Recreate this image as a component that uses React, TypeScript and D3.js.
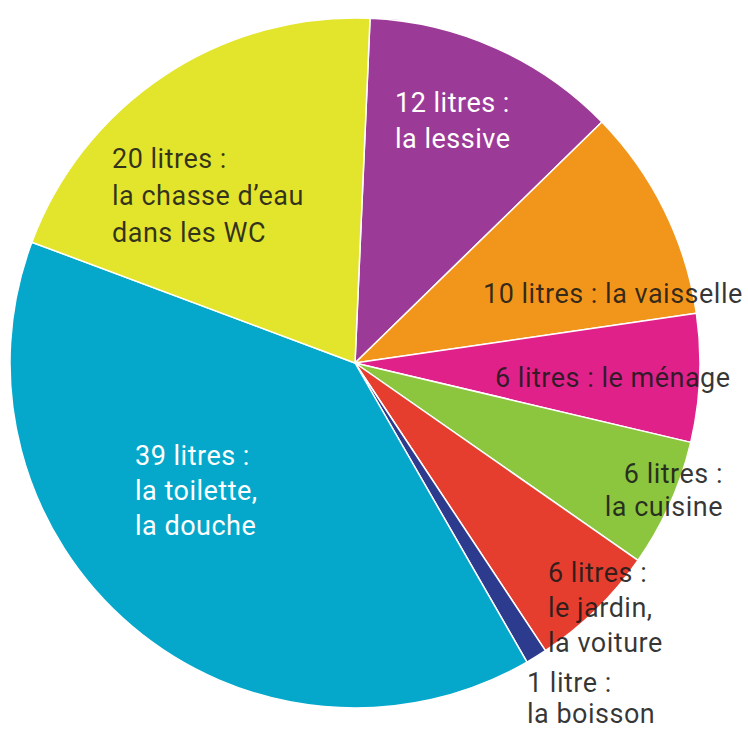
import React from "react";
import * as d3 from "d3";

const categories = [
  "la lessive",
  "la vaisselle",
  "le ménage",
  "la cuisine",
  "le jardin, la voiture",
  "la boisson",
  "la toilette, la douche",
  "la chasse d'eau dans les WC",
];
const values = [12, 10, 6, 6, 6, 1, 39, 20];
const colors = ["#9C3B97", "#F2961B", "#E0218A", "#8CC63E", "#E63E2E", "#2D3B8E", "#05A8CA", "#E3E42C"];
const labelLines = [
  ["12 litres :", "la lessive"],
  ["10 litres : la vaisselle"],
  ["6 litres : le ménage"],
  ["6 litres :", "la cuisine"],
  ["6 litres :", "le jardin,", "la voiture"],
  ["1 litre :", "la boisson"],
  ["39 litres  :", "la toilette,", "la douche"],
  ["20 litres :", "la chasse d\u2019eau", "dans les WC"],
];

// label layout (x, first baseline, anchor, colour, line gap)
const labelLayout = [
  { x: 395, y: 112, anchor: "start", fill: "#ffffff", gap: 36 },
  { x: 483, y: 303, anchor: "start", fill: "#1a1a1a", gap: 35 },
  { x: 495, y: 387, anchor: "start", fill: "#1a1a1a", gap: 35 },
  { x: 723, y: 483, anchor: "end", fill: "#1a1a1a", gap: 33 },
  { x: 548, y: 582, anchor: "start", fill: "#1a1a1a", gap: 35 },
  { x: 527, y: 692, anchor: "start", fill: "#1a1a1a", gap: 31 },
  { x: 135, y: 465, anchor: "start", fill: "#ffffff", gap: 35 },
  { x: 112, y: 168, anchor: "start", fill: "#1a1a1a", gap: 37 },
];

const W = 748;
const H = 731;
const CX = 355;
const CY = 363;
const R = 345;
const START = (2.5 * Math.PI) / 180;

export default function App() {
  const pie = d3
    .pie<number>()
    .sort(null)
    .value((d) => d)
    .startAngle(START)
    .endAngle(START + 2 * Math.PI);
  const arcs = pie(values);
  const arc = d3.arc<d3.PieArcDatum<number>>().innerRadius(0).outerRadius(R);

  return (
    <svg
      width={W}
      height={H}
      style={{ position: "absolute", left: 0, top: 0, background: "#ffffff" }}
      fontFamily="Roboto, 'DejaVu Sans', sans-serif"
    >
      <rect width={W} height={H} fill="#ffffff" />
      <g transform={`translate(${CX},${CY})`}>
        {arcs.map((a, i) => (
          <path
            key={categories[i]}
            d={arc(a) || ""}
            fill={colors[i]}
            stroke="#ffffff"
            strokeWidth={1.5}
            strokeLinejoin="round"
          />
        ))}
      </g>
      {labelLines.map((lines, i) => {
        const L = labelLayout[i];
        return (
          <text
            key={"t" + i}
            x={L.x}
            y={L.y}
            textAnchor={L.anchor as any}
            fill={L.fill}
            fillOpacity={L.fill === "#ffffff" ? 1 : 0.88}
            fontSize={27}
            letterSpacing={0.5}
          >
            {lines.map((ln, j) => (
              <tspan key={j} x={L.x} dy={j === 0 ? 0 : L.gap}>
                {ln}
              </tspan>
            ))}
          </text>
        );
      })}
    </svg>
  );
}
